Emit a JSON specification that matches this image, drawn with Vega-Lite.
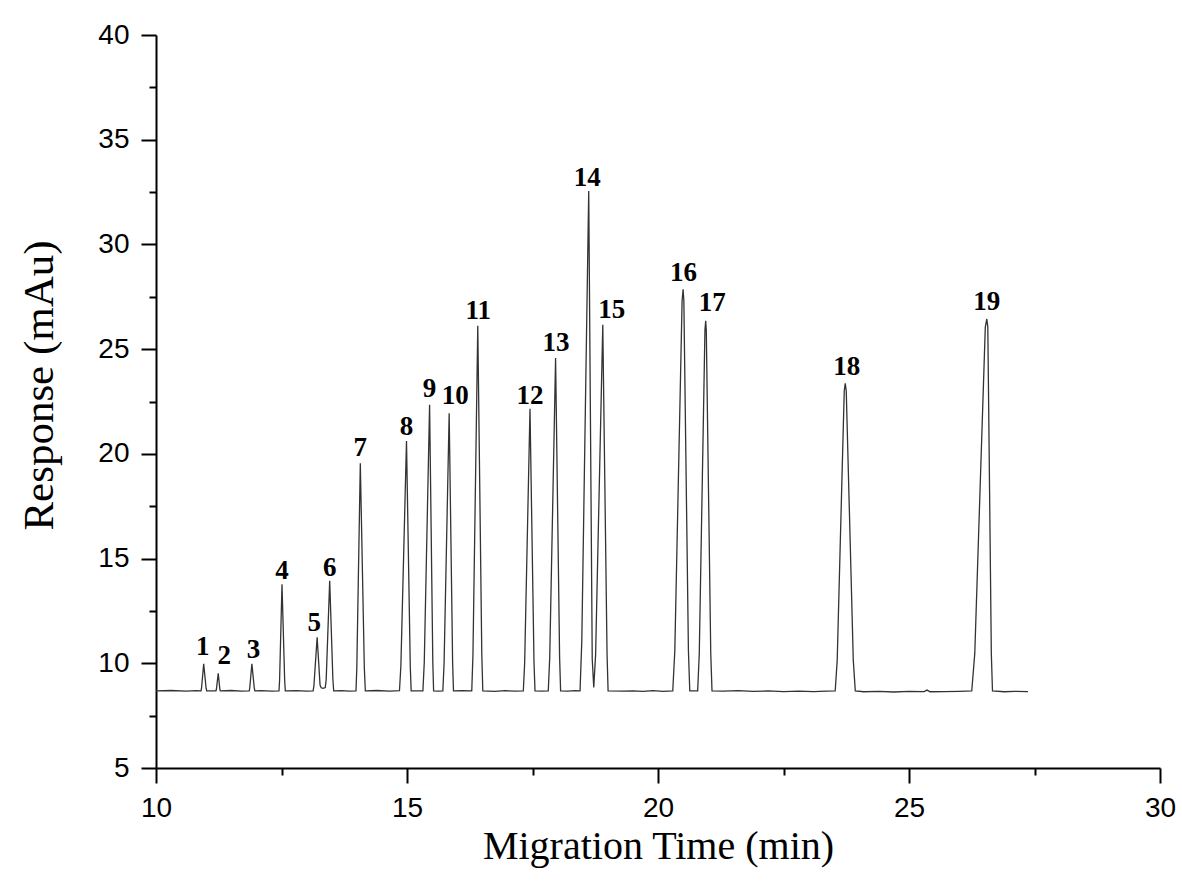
{
  "$schema": "https://vega.github.io/schema/vega-lite/v6.json",
  "width": 1004,
  "height": 733,
  "autosize": {"type": "none"},
  "padding": {"left": 156, "top": 35, "right": 22, "bottom": 122},
  "background": "white",
  "config": {"view": {"stroke": null}},
  "datasets": {
    "trace": [
      {"time": 10.0, "response": 8.68}, {"time": 10.3, "response": 8.70}, {"time": 10.6, "response": 8.67}, {"time": 10.8, "response": 8.69},
      {"time": 10.897, "response": 8.68}, {"time": 10.907, "response": 8.81}, {"time": 10.95, "response": 9.97}, {"time": 10.998, "response": 8.81}, {"time": 11.01, "response": 8.68},
      {"time": 11.1, "response": 8.68},
      {"time": 11.194, "response": 8.68}, {"time": 11.203, "response": 8.76}, {"time": 11.24, "response": 9.52}, {"time": 11.272, "response": 8.76}, {"time": 11.28, "response": 8.68},
      {"time": 11.5, "response": 8.70}, {"time": 11.7, "response": 8.67},
      {"time": 11.857, "response": 8.68}, {"time": 11.867, "response": 8.81}, {"time": 11.91, "response": 9.97}, {"time": 11.958, "response": 8.81}, {"time": 11.97, "response": 8.68},
      {"time": 12.1, "response": 8.69}, {"time": 12.3, "response": 8.67},
      {"time": 12.45, "response": 8.68}, {"time": 12.462, "response": 9.19}, {"time": 12.51, "response": 13.77}, {"time": 12.563, "response": 9.19}, {"time": 12.576, "response": 8.68},
      {"time": 12.8, "response": 8.69}, {"time": 13.0, "response": 8.67},
      {"time": 13.13, "response": 8.68}, {"time": 13.146, "response": 8.94}, {"time": 13.21, "response": 11.24}, {"time": 13.268, "response": 8.96}, {"time": 13.29, "response": 8.83},
      {"time": 13.33, "response": 8.80},
      {"time": 13.372, "response": 8.84}, {"time": 13.39, "response": 9.21}, {"time": 13.46, "response": 13.94}, {"time": 13.524, "response": 9.21}, {"time": 13.54, "response": 8.68},
      {"time": 13.7, "response": 8.69}, {"time": 13.85, "response": 8.67},
      {"time": 13.984, "response": 8.68}, {"time": 14.0, "response": 9.77}, {"time": 14.07, "response": 19.55}, {"time": 14.15, "response": 9.77}, {"time": 14.17, "response": 8.68},
      {"time": 14.4, "response": 8.70}, {"time": 14.65, "response": 8.67},
      {"time": 14.85, "response": 8.69}, {"time": 14.878, "response": 9.87}, {"time": 14.99, "response": 20.61}, {"time": 15.065, "response": 9.87}, {"time": 15.083, "response": 8.68},
      {"time": 15.2, "response": 8.68},
      {"time": 15.317, "response": 8.68}, {"time": 15.344, "response": 10.05}, {"time": 15.45, "response": 22.35}, {"time": 15.514, "response": 10.05}, {"time": 15.53, "response": 8.68},
      {"time": 15.62, "response": 8.67},
      {"time": 15.714, "response": 8.68}, {"time": 15.739, "response": 10.01}, {"time": 15.84, "response": 21.94}, {"time": 15.909, "response": 10.01}, {"time": 15.926, "response": 8.68},
      {"time": 16.1, "response": 8.69},
      {"time": 16.29, "response": 8.68}, {"time": 16.314, "response": 10.42}, {"time": 16.41, "response": 26.12}, {"time": 16.49, "response": 10.42}, {"time": 16.51, "response": 8.68},
      {"time": 16.75, "response": 8.66}, {"time": 16.95, "response": 8.69}, {"time": 17.15, "response": 8.67},
      {"time": 17.317, "response": 8.68}, {"time": 17.344, "response": 10.03}, {"time": 17.45, "response": 22.15}, {"time": 17.53, "response": 10.03}, {"time": 17.55, "response": 8.68},
      {"time": 17.68, "response": 8.67},
      {"time": 17.814, "response": 8.68}, {"time": 17.843, "response": 10.27}, {"time": 17.96, "response": 24.58}, {"time": 18.04, "response": 10.27}, {"time": 18.06, "response": 8.68},
      {"time": 18.2, "response": 8.67}, {"time": 18.35, "response": 8.69},
      {"time": 18.447, "response": 8.68}, {"time": 18.482, "response": 11.07}, {"time": 18.62, "response": 32.55}, {"time": 18.69, "response": 10.2}, {"time": 18.72, "response": 8.84},
      {"time": 18.757, "response": 10.4}, {"time": 18.9, "response": 26.16}, {"time": 18.985, "response": 10.43}, {"time": 19.006, "response": 8.68},
      {"time": 19.3, "response": 8.67}, {"time": 19.5, "response": 8.68}, {"time": 19.7, "response": 8.66}, {"time": 19.9, "response": 8.69}, {"time": 20.1, "response": 8.66},
      {"time": 20.294, "response": 8.68}, {"time": 20.335, "response": 10.6}, {"time": 20.48, "response": 27.3}, {"time": 20.5, "response": 27.86}, {"time": 20.515, "response": 27.3}, {"time": 20.606, "response": 10.6}, {"time": 20.633, "response": 8.68},
      {"time": 20.7, "response": 8.68},
      {"time": 20.79, "response": 8.68}, {"time": 20.822, "response": 10.45}, {"time": 20.935, "response": 25.9}, {"time": 20.95, "response": 26.35}, {"time": 20.962, "response": 25.9}, {"time": 21.051, "response": 10.45}, {"time": 21.076, "response": 8.68},
      {"time": 21.3, "response": 8.67}, {"time": 21.6, "response": 8.69}, {"time": 21.9, "response": 8.66}, {"time": 22.2, "response": 8.68}, {"time": 22.5, "response": 8.65}, {"time": 22.8, "response": 8.67}, {"time": 23.1, "response": 8.65}, {"time": 23.35, "response": 8.67},
      {"time": 23.53, "response": 8.68}, {"time": 23.57, "response": 10.15}, {"time": 23.71, "response": 23.0}, {"time": 23.73, "response": 23.37}, {"time": 23.75, "response": 23.0}, {"time": 23.89, "response": 10.15}, {"time": 23.93, "response": 8.68},
      {"time": 24.1, "response": 8.64}, {"time": 24.4, "response": 8.66}, {"time": 24.7, "response": 8.63}, {"time": 25.0, "response": 8.66}, {"time": 25.3, "response": 8.65}, {"time": 25.36, "response": 8.72}, {"time": 25.42, "response": 8.64}, {"time": 25.7, "response": 8.65}, {"time": 26.0, "response": 8.66},
      {"time": 26.25, "response": 8.68}, {"time": 26.31, "response": 10.46}, {"time": 26.52, "response": 26.05}, {"time": 26.55, "response": 26.44}, {"time": 26.57, "response": 26.05}, {"time": 26.64, "response": 10.46}, {"time": 26.663, "response": 8.68},
      {"time": 26.9, "response": 8.64}, {"time": 27.1, "response": 8.66}, {"time": 27.37, "response": 8.65}
    ],
    "labels": [
      {"peak": "1", "time": 10.93, "response": 10.76},
      {"peak": "2", "time": 11.36, "response": 10.36},
      {"peak": "3", "time": 11.94, "response": 10.64},
      {"peak": "4", "time": 12.51, "response": 14.41},
      {"peak": "5", "time": 13.15, "response": 11.91},
      {"peak": "6", "time": 13.46, "response": 14.54},
      {"peak": "7", "time": 14.07, "response": 20.27},
      {"peak": "8", "time": 14.99, "response": 21.29},
      {"peak": "9", "time": 15.45, "response": 23.12},
      {"peak": "10", "time": 15.96, "response": 22.75},
      {"peak": "11", "time": 16.42, "response": 26.81},
      {"peak": "12", "time": 17.45, "response": 22.75},
      {"peak": "13", "time": 17.97, "response": 25.27},
      {"peak": "14", "time": 18.59, "response": 33.15},
      {"peak": "15", "time": 19.08, "response": 26.89},
      {"peak": "16", "time": 20.51, "response": 28.65},
      {"peak": "17", "time": 21.08, "response": 27.19},
      {"peak": "18", "time": 23.76, "response": 24.14},
      {"peak": "19", "time": 26.55, "response": 27.27}
    ]
  },
  "layer": [
    {
      "data": {"name": "trace"},
      "mark": {"type": "line", "color": "#333333", "strokeWidth": 1.3},
      "encoding": {
        "x": {
          "field": "time", "type": "quantitative",
          "scale": {"domain": [10, 30], "nice": false, "zero": false},
          "axis": {
            "title": "Migration Time (min)",
            "values": [10, 12.5, 15, 17.5, 20, 22.5, 25, 27.5, 30],
            "labelExpr": "datum.value % 5 === 0 ? format(datum.value, 'd') : ''",
            "labelFont": "Liberation Sans", "labelFontSize": 28, "labelColor": "black",
            "labelPadding": 11, "labelFlush": false, "labelOverlap": false,
            "tickSize": {"condition": {"test": "datum.value % 5 === 0", "value": 15}, "value": 7},
            "tickWidth": 2, "tickColor": "black",
            "domainWidth": 2, "domainColor": "black", "grid": false,
            "titleFont": "Liberation Serif", "titleFontSize": 40, "titleFontWeight": "normal", "titleColor": "black",
            "titleBaseline": "alphabetic", "titleY": 90
          }
        },
        "y": {
          "field": "response", "type": "quantitative",
          "scale": {"domain": [5, 40], "nice": false, "zero": false},
          "axis": {
            "title": "Response (mAu)",
            "values": [5, 7.5, 10, 12.5, 15, 17.5, 20, 22.5, 25, 27.5, 30, 32.5, 35, 37.5, 40],
            "labelExpr": "datum.value % 5 === 0 ? format(datum.value, 'd') : ''",
            "labelFont": "Liberation Sans", "labelFontSize": 28, "labelColor": "black",
            "labelPadding": 12, "labelFlush": false, "labelOverlap": false,
            "tickSize": {"condition": {"test": "datum.value % 5 === 0", "value": 15}, "value": 7},
            "tickWidth": 2, "tickColor": "black",
            "domainWidth": 2, "domainColor": "black", "grid": false,
            "titleFont": "Liberation Serif", "titleFontSize": 43, "titleFontWeight": "normal", "titleColor": "black",
            "titleBaseline": "alphabetic", "titleX": -104, "titleY": 350, "titleAngle": -90
          }
        }
      }
    },
    {
      "data": {"name": "labels"},
      "mark": {"type": "text", "font": "Liberation Serif", "fontWeight": "bold", "fontSize": 27, "baseline": "middle", "align": "center", "color": "black"},
      "encoding": {
        "x": {"field": "time", "type": "quantitative"},
        "y": {"field": "response", "type": "quantitative"},
        "text": {"field": "peak"}
      }
    }
  ]
}
